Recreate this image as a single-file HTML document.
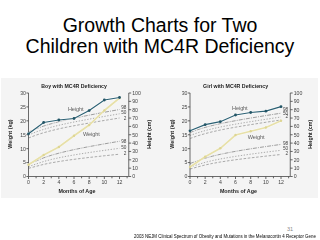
<!DOCTYPE html>
<html><head><meta charset="utf-8">
<style>
html,body{margin:0;padding:0;background:#fff;}
body{width:320px;height:240px;position:relative;overflow:hidden;font-family:"Liberation Sans",sans-serif;}
.title{position:absolute;left:0;top:0;width:320px;text-align:center;font-size:19.5px;line-height:21px;color:#000;}
.t1{position:absolute;left:0;width:320px;text-align:center;top:15px;}
.t2{position:absolute;left:0;width:320px;text-align:center;top:35.5px;}
.bg{position:absolute;left:1px;top:78px;width:316.5px;height:119.5px;background:#f4f4f4;}
svg{position:absolute;left:0;top:0;filter:blur(0.3px);}
.ct{font:bold 5.7px "Liberation Sans",sans-serif;fill:#222;}
.tl{font:5.2px "Liberation Sans",sans-serif;fill:#444;}
.pl{font:4.7px "Liberation Sans",sans-serif;fill:#444;}
.dl{font:5.6px "Liberation Sans",sans-serif;fill:#5e5e5e;letter-spacing:-0.12px;}
.al{font:bold 5.6px "Liberation Sans",sans-serif;fill:#222;}
.ax{fill:none;stroke:#5a5a5a;stroke-width:0.9;}
.tk{fill:none;stroke:#4a4a4a;stroke-width:0.85;}
.pc{fill:none;stroke:#808080;}
.hl{fill:none;stroke:#2c6174;stroke-width:1.2;}
.hh{fill:none;stroke:#fff;stroke-width:2.4;opacity:0.7;}
.hd{fill:#235566;}
.wl{fill:none;stroke:#e7e0a8;stroke-width:1.7;}
.wh{fill:none;stroke:#fff;stroke-width:2.4;opacity:0.6;}
.wd{fill:#ddd594;}
.pg{position:absolute;left:287px;top:226px;font-size:5.5px;line-height:6px;color:#8a8a8a;}
.cite{position:absolute;left:134px;top:232.5px;font-size:5px;line-height:6px;color:#000;white-space:nowrap;transform:scaleX(0.882);transform-origin:0 0;}
</style></head><body>
<div class="title t1">Growth Charts for Two</div>
<div class="title t2">Children with MC4R Deficiency</div>
<div class="bg"></div>
<svg width="320" height="240" viewBox="0 0 320 240">
<g transform="translate(0.00,0)">
<text x="41.30" y="87.7" class="ct" textLength="65.60" lengthAdjust="spacingAndGlyphs">Boy with MC4R Deficiency</text>
<polyline class="pc" stroke-width="0.75" stroke-dasharray="4,1.1,1,1.1" points="28.50,132.00 36.09,128.74 43.67,126.05 51.25,123.73 58.84,121.67 66.42,119.88 74.01,118.24 81.59,116.65 89.18,115.17 96.77,113.69 104.35,112.26 111.94,110.88 119.52,109.50"/>
<polyline class="pc" stroke-width="0.65" stroke-dasharray="1.3,1.6" points="28.50,135.00 36.09,131.93 43.67,129.40 51.25,127.21 58.84,125.27 66.42,123.58 74.01,122.03 81.59,120.54 89.18,119.14 96.77,117.74 104.35,116.40 111.94,115.10 119.52,113.80"/>
<polyline class="pc" stroke-width="0.65" stroke-dasharray="2.6,1.6" points="28.50,138.00 36.09,135.10 43.67,132.71 51.25,130.65 58.84,128.82 66.42,127.22 74.01,125.77 81.59,124.36 89.18,123.04 96.77,121.72 104.35,120.45 111.94,119.22 119.52,118.00"/>
<polyline class="pc" stroke-width="0.75" stroke-dasharray="4,1.1,1,1.1" points="28.50,164.20 36.09,160.99 43.67,157.83 51.25,155.30 58.84,153.19 66.42,151.31 74.01,149.63 81.59,148.06 89.18,146.60 96.77,145.23 104.35,143.87 111.94,142.56 119.52,141.30"/>
<polyline class="pc" stroke-width="0.65" stroke-dasharray="1.3,1.6" points="28.50,166.60 36.09,164.04 43.67,161.51 51.25,159.49 58.84,157.80 66.42,156.30 74.01,154.96 81.59,153.70 89.18,152.54 96.77,151.44 104.35,150.36 111.94,149.31 119.52,148.30"/>
<polyline class="pc" stroke-width="0.65" stroke-dasharray="2.6,1.6" points="28.50,168.30 36.09,166.33 43.67,164.38 51.25,162.82 58.84,161.52 66.42,160.36 74.01,159.33 81.59,158.36 89.18,157.46 96.77,156.62 104.35,155.78 111.94,154.98 119.52,154.20"/>
<text x="67.90" y="110.90" class="dl">Height</text>
<text x="83.00" y="135.90" class="dl">Weight</text>
<path class="ax" d="M28.5,93 V176.5 H128.75 V93"/>
<path class="tk" d="M28.6,176.50 h-2.2"/>
<text x="26" y="178.40" class="tl" text-anchor="end">0</text>
<path class="tk" d="M28.6,162.58 h-2.2"/>
<text x="26" y="164.48" class="tl" text-anchor="end">5</text>
<path class="tk" d="M28.6,148.67 h-2.2"/>
<text x="26" y="150.57" class="tl" text-anchor="end">10</text>
<path class="tk" d="M28.6,134.75 h-2.2"/>
<text x="26" y="136.65" class="tl" text-anchor="end">15</text>
<path class="tk" d="M28.6,120.83 h-2.2"/>
<text x="26" y="122.73" class="tl" text-anchor="end">20</text>
<path class="tk" d="M28.6,106.92 h-2.2"/>
<text x="26" y="108.82" class="tl" text-anchor="end">25</text>
<path class="tk" d="M28.6,93.00 h-2.2"/>
<text x="26" y="94.90" class="tl" text-anchor="end">30</text>
<path class="tk" d="M128.75,176.50 h2.4"/>
<text x="132.2" y="178.40" class="tl">0</text>
<path class="tk" d="M128.75,168.15 h2.4"/>
<text x="132.2" y="170.05" class="tl">10</text>
<path class="tk" d="M128.75,159.80 h2.4"/>
<text x="132.2" y="161.70" class="tl">20</text>
<path class="tk" d="M128.75,151.45 h2.4"/>
<text x="132.2" y="153.35" class="tl">30</text>
<path class="tk" d="M128.75,143.10 h2.4"/>
<text x="132.2" y="145.00" class="tl">40</text>
<path class="tk" d="M128.75,134.75 h2.4"/>
<text x="132.2" y="136.65" class="tl">50</text>
<path class="tk" d="M128.75,126.40 h2.4"/>
<text x="132.2" y="128.30" class="tl">60</text>
<path class="tk" d="M128.75,118.05 h2.4"/>
<text x="132.2" y="119.95" class="tl">70</text>
<path class="tk" d="M128.75,109.70 h2.4"/>
<text x="132.2" y="111.60" class="tl">80</text>
<path class="tk" d="M128.75,101.35 h2.4"/>
<text x="132.2" y="103.25" class="tl">90</text>
<path class="tk" d="M128.75,93.00 h2.4"/>
<text x="132.2" y="94.90" class="tl">100</text>
<path class="tk" d="M28.50,176.5 v2.5"/>
<text x="28.50" y="184.0" class="tl" text-anchor="middle">0</text>
<path class="tk" d="M36.09,176.5 v1.8"/>
<path class="tk" d="M43.67,176.5 v2.5"/>
<text x="43.67" y="184.0" class="tl" text-anchor="middle">2</text>
<path class="tk" d="M51.25,176.5 v1.8"/>
<path class="tk" d="M58.84,176.5 v2.5"/>
<text x="58.84" y="184.0" class="tl" text-anchor="middle">4</text>
<path class="tk" d="M66.42,176.5 v1.8"/>
<path class="tk" d="M74.01,176.5 v2.5"/>
<text x="74.01" y="184.0" class="tl" text-anchor="middle">6</text>
<path class="tk" d="M81.59,176.5 v1.8"/>
<path class="tk" d="M89.18,176.5 v2.5"/>
<text x="89.18" y="184.0" class="tl" text-anchor="middle">8</text>
<path class="tk" d="M96.77,176.5 v1.8"/>
<path class="tk" d="M104.35,176.5 v2.5"/>
<text x="104.35" y="184.0" class="tl" text-anchor="middle">10</text>
<path class="tk" d="M111.94,176.5 v1.8"/>
<path class="tk" d="M119.52,176.5 v2.5"/>
<text x="119.52" y="184.0" class="tl" text-anchor="middle">12</text>
<path class="tk" d="M127.11,176.5 v1.8"/>
<text x="58.4" y="193.0" class="al" textLength="37.0" lengthAdjust="spacingAndGlyphs">Months of Age</text>
<text transform="translate(12.2,148.7) rotate(-90)" class="al" textLength="29.2" lengthAdjust="spacingAndGlyphs">Weight (kg)</text>
<text transform="translate(150.7,148.8) rotate(-90)" class="al" textLength="29.0" lengthAdjust="spacingAndGlyphs">Height (cm)</text>
<polyline class="wh" points="28.50,164.70 43.67,155.00 58.84,147.00 74.01,135.80 89.18,125.00 104.35,110.50 119.52,98.00"/>
<polyline class="wl" points="28.50,164.70 43.67,155.00 58.84,147.00 74.01,135.80 89.18,125.00 104.35,110.50 119.52,98.00"/>
<circle class="wd" cx="28.50" cy="164.70" r="1.2"/>
<circle class="wd" cx="43.67" cy="155.00" r="1.2"/>
<circle class="wd" cx="58.84" cy="147.00" r="1.2"/>
<circle class="wd" cx="74.01" cy="135.80" r="1.2"/>
<circle class="wd" cx="89.18" cy="125.00" r="1.2"/>
<circle class="wd" cx="104.35" cy="110.50" r="1.2"/>
<circle class="wd" cx="119.52" cy="98.00" r="1.2"/>
<polyline class="hh" points="28.50,133.80 43.67,122.50 58.84,120.00 74.01,118.50 89.18,110.60 104.35,100.00 119.52,97.50"/>
<polyline class="hl" points="28.50,133.80 43.67,122.50 58.84,120.00 74.01,118.50 89.18,110.60 104.35,100.00 119.52,97.50"/>
<circle class="hd" cx="28.50" cy="133.80" r="1.4"/>
<circle class="hd" cx="43.67" cy="122.50" r="1.4"/>
<circle class="hd" cx="58.84" cy="120.00" r="1.4"/>
<circle class="hd" cx="74.01" cy="118.50" r="1.4"/>
<circle class="hd" cx="89.18" cy="110.60" r="1.4"/>
<circle class="hd" cx="104.35" cy="100.00" r="1.4"/>
<circle class="hd" cx="119.52" cy="97.50" r="1.4"/>
</g><g transform="translate(161.50,0)">
<text x="41.60" y="87.7" class="ct" textLength="65.00" lengthAdjust="spacingAndGlyphs">Girl with MC4R Deficiency</text>
<polyline class="pc" stroke-width="0.75" stroke-dasharray="4,1.1,1,1.1" points="28.50,132.50 36.09,129.70 43.67,127.40 51.25,125.41 58.84,123.64 66.42,122.10 74.01,120.70 81.59,119.33 89.18,118.06 96.77,116.79 104.35,115.56 111.94,114.38 119.52,113.20"/>
<polyline class="pc" stroke-width="0.65" stroke-dasharray="1.3,1.6" points="28.50,135.50 36.09,132.82 43.67,130.61 51.25,128.70 58.84,127.01 66.42,125.53 74.01,124.18 81.59,122.88 89.18,121.66 96.77,120.44 104.35,119.27 111.94,118.13 119.52,117.00"/>
<polyline class="pc" stroke-width="0.65" stroke-dasharray="2.6,1.6" points="28.50,138.50 36.09,135.82 43.67,133.61 51.25,131.70 58.84,130.01 66.42,128.53 74.01,127.18 81.59,125.88 89.18,124.66 96.77,123.44 104.35,122.27 111.94,121.13 119.52,120.00"/>
<polyline class="pc" stroke-width="0.75" stroke-dasharray="4,1.1,1,1.1" points="28.50,163.50 36.09,160.83 43.67,158.19 51.25,156.08 58.84,154.31 66.42,152.75 74.01,151.35 81.59,150.04 89.18,148.82 96.77,147.67 104.35,146.55 111.94,145.46 119.52,144.40"/>
<polyline class="pc" stroke-width="0.65" stroke-dasharray="1.3,1.6" points="28.50,167.00 36.09,164.66 43.67,162.36 51.25,160.51 58.84,158.97 66.42,157.60 74.01,156.38 81.59,155.23 89.18,154.16 96.77,153.16 104.35,152.18 111.94,151.22 119.52,150.30"/>
<polyline class="pc" stroke-width="0.65" stroke-dasharray="2.6,1.6" points="28.50,169.00 36.09,166.97 43.67,164.97 51.25,163.37 58.84,162.03 66.42,160.84 74.01,159.78 81.59,158.78 89.18,157.86 96.77,156.99 104.35,156.13 111.94,155.30 119.52,154.50"/>
<text x="70.60" y="110.30" class="dl">Height</text>
<text x="86.30" y="138.80" class="dl">Weight</text>
<path class="ax" d="M28.5,93 V176.5 H128.75 V93"/>
<path class="tk" d="M28.6,176.50 h-2.2"/>
<text x="26" y="178.40" class="tl" text-anchor="end">0</text>
<path class="tk" d="M28.6,162.58 h-2.2"/>
<text x="26" y="164.48" class="tl" text-anchor="end">5</text>
<path class="tk" d="M28.6,148.67 h-2.2"/>
<text x="26" y="150.57" class="tl" text-anchor="end">10</text>
<path class="tk" d="M28.6,134.75 h-2.2"/>
<text x="26" y="136.65" class="tl" text-anchor="end">15</text>
<path class="tk" d="M28.6,120.83 h-2.2"/>
<text x="26" y="122.73" class="tl" text-anchor="end">20</text>
<path class="tk" d="M28.6,106.92 h-2.2"/>
<text x="26" y="108.82" class="tl" text-anchor="end">25</text>
<path class="tk" d="M28.6,93.00 h-2.2"/>
<text x="26" y="94.90" class="tl" text-anchor="end">30</text>
<path class="tk" d="M128.75,176.50 h2.4"/>
<text x="132.2" y="178.40" class="tl">0</text>
<path class="tk" d="M128.75,168.15 h2.4"/>
<text x="132.2" y="170.05" class="tl">10</text>
<path class="tk" d="M128.75,159.80 h2.4"/>
<text x="132.2" y="161.70" class="tl">20</text>
<path class="tk" d="M128.75,151.45 h2.4"/>
<text x="132.2" y="153.35" class="tl">30</text>
<path class="tk" d="M128.75,143.10 h2.4"/>
<text x="132.2" y="145.00" class="tl">40</text>
<path class="tk" d="M128.75,134.75 h2.4"/>
<text x="132.2" y="136.65" class="tl">50</text>
<path class="tk" d="M128.75,126.40 h2.4"/>
<text x="132.2" y="128.30" class="tl">60</text>
<path class="tk" d="M128.75,118.05 h2.4"/>
<text x="132.2" y="119.95" class="tl">70</text>
<path class="tk" d="M128.75,109.70 h2.4"/>
<text x="132.2" y="111.60" class="tl">80</text>
<path class="tk" d="M128.75,101.35 h2.4"/>
<text x="132.2" y="103.25" class="tl">90</text>
<path class="tk" d="M128.75,93.00 h2.4"/>
<text x="132.2" y="94.90" class="tl">100</text>
<path class="tk" d="M28.50,176.5 v2.5"/>
<text x="28.50" y="184.0" class="tl" text-anchor="middle">0</text>
<path class="tk" d="M36.09,176.5 v1.8"/>
<path class="tk" d="M43.67,176.5 v2.5"/>
<text x="43.67" y="184.0" class="tl" text-anchor="middle">2</text>
<path class="tk" d="M51.25,176.5 v1.8"/>
<path class="tk" d="M58.84,176.5 v2.5"/>
<text x="58.84" y="184.0" class="tl" text-anchor="middle">4</text>
<path class="tk" d="M66.42,176.5 v1.8"/>
<path class="tk" d="M74.01,176.5 v2.5"/>
<text x="74.01" y="184.0" class="tl" text-anchor="middle">6</text>
<path class="tk" d="M81.59,176.5 v1.8"/>
<path class="tk" d="M89.18,176.5 v2.5"/>
<text x="89.18" y="184.0" class="tl" text-anchor="middle">8</text>
<path class="tk" d="M96.77,176.5 v1.8"/>
<path class="tk" d="M104.35,176.5 v2.5"/>
<text x="104.35" y="184.0" class="tl" text-anchor="middle">10</text>
<path class="tk" d="M111.94,176.5 v1.8"/>
<path class="tk" d="M119.52,176.5 v2.5"/>
<text x="119.52" y="184.0" class="tl" text-anchor="middle">12</text>
<path class="tk" d="M127.11,176.5 v1.8"/>
<text x="58.4" y="193.0" class="al" textLength="37.0" lengthAdjust="spacingAndGlyphs">Months of Age</text>
<text transform="translate(12.2,148.7) rotate(-90)" class="al" textLength="29.2" lengthAdjust="spacingAndGlyphs">Weight (kg)</text>
<text transform="translate(150.7,148.8) rotate(-90)" class="al" textLength="29.0" lengthAdjust="spacingAndGlyphs">Height (cm)</text>
<polyline class="wh" points="28.50,167.00 43.67,156.70 58.84,148.30 74.01,135.00 89.18,131.20 104.35,127.50 119.52,120.80"/>
<polyline class="wl" points="28.50,167.00 43.67,156.70 58.84,148.30 74.01,135.00 89.18,131.20 104.35,127.50 119.52,120.80"/>
<circle class="wd" cx="28.50" cy="167.00" r="1.2"/>
<circle class="wd" cx="43.67" cy="156.70" r="1.2"/>
<circle class="wd" cx="58.84" cy="148.30" r="1.2"/>
<circle class="wd" cx="74.01" cy="135.00" r="1.2"/>
<circle class="wd" cx="89.18" cy="131.20" r="1.2"/>
<circle class="wd" cx="104.35" cy="127.50" r="1.2"/>
<circle class="wd" cx="119.52" cy="120.80" r="1.2"/>
<polyline class="hh" points="28.50,130.80 43.67,124.70 58.84,121.70 74.01,115.00 89.18,112.50 104.35,111.20 119.52,106.70"/>
<polyline class="hl" points="28.50,130.80 43.67,124.70 58.84,121.70 74.01,115.00 89.18,112.50 104.35,111.20 119.52,106.70"/>
<circle class="hd" cx="28.50" cy="130.80" r="1.4"/>
<circle class="hd" cx="43.67" cy="124.70" r="1.4"/>
<circle class="hd" cx="58.84" cy="121.70" r="1.4"/>
<circle class="hd" cx="74.01" cy="115.00" r="1.4"/>
<circle class="hd" cx="89.18" cy="112.50" r="1.4"/>
<circle class="hd" cx="104.35" cy="111.20" r="1.4"/>
<circle class="hd" cx="119.52" cy="106.70" r="1.4"/>
</g>
<text x="126.40" y="109.25" class="pl" text-anchor="end">98</text>
<text x="126.40" y="114.45" class="pl" text-anchor="end">50</text>
<text x="126.40" y="119.65" class="pl" text-anchor="end">2</text>
<text x="126.40" y="142.65" class="pl" text-anchor="end">98</text>
<text x="126.40" y="149.15" class="pl" text-anchor="end">50</text>
<text x="126.40" y="154.65" class="pl" text-anchor="end">2</text>
<text x="288.20" y="111.15" class="pl" text-anchor="end">98</text>
<text x="288.20" y="114.65" class="pl" text-anchor="end">50</text>
<text x="288.20" y="117.95" class="pl" text-anchor="end">2</text>
<text x="288.20" y="145.15" class="pl" text-anchor="end">98</text>
<text x="288.20" y="149.95" class="pl" text-anchor="end">50</text>
<text x="288.20" y="155.35" class="pl" text-anchor="end">2</text>
</svg>
<div class="pg">31</div>
<div class="cite">2003 NEJM Clinical Spectrum of Obesity and Mutations in the Melanocortin 4 Receptor Gene</div>
</body></html>
